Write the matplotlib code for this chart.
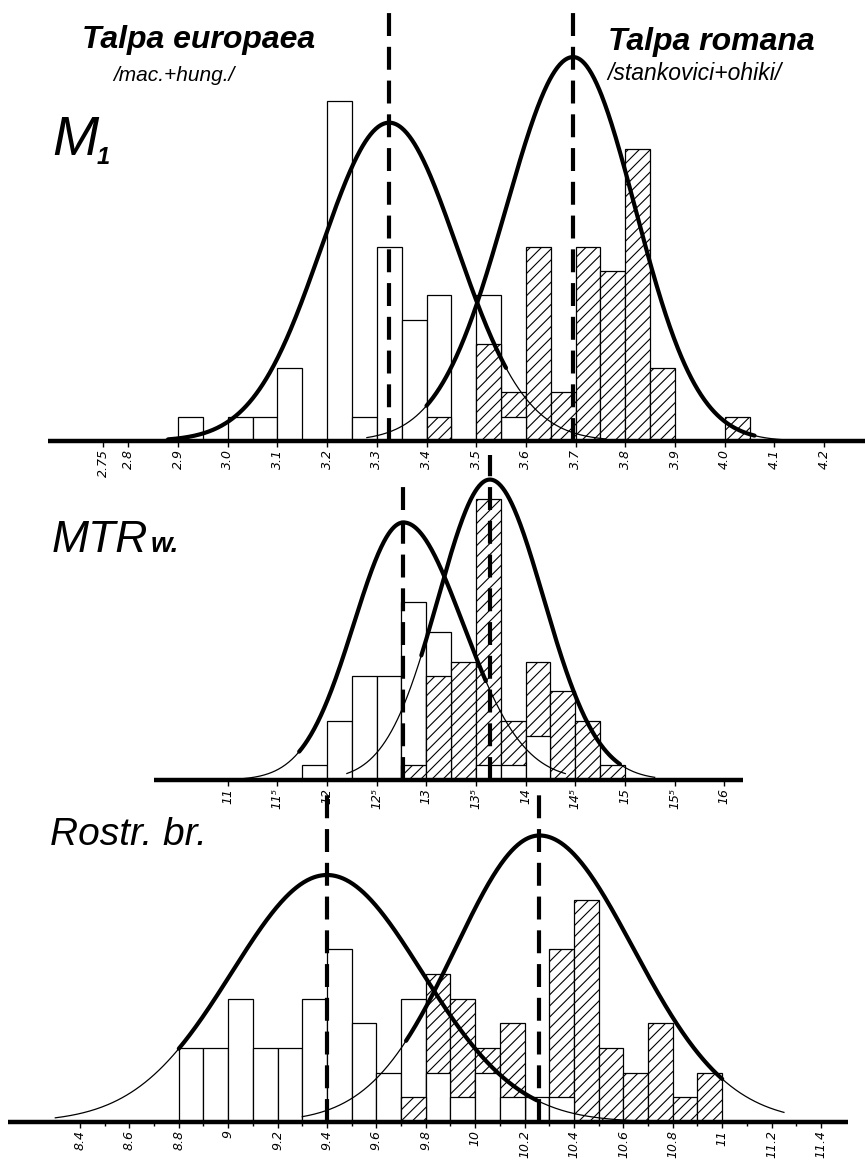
import numpy as np
import matplotlib
matplotlib.use("Agg")
import matplotlib.pyplot as plt

# ---------------- data ----------------
# M1 panel (bins of 0.05 starting at 2.90)
m1_bin_start = 2.90
m1_bin_width = 0.05
m1_europaea = [1, 0, 1, 1, 3, 0, 14, 1, 8, 5, 6, 0, 6, 1, 0, 0, 0, 0, 0, 0, 0, 0, 0, 0]
m1_romana = [0, 0, 0, 0, 0, 0, 0, 0, 0, 0, 1, 0, 4, 2, 8, 2, 8, 7, 12, 3, 0, 0, 1, 0]
m1_ticks = [2.75, 2.8, 2.9, 3.0, 3.1, 3.2, 3.3, 3.4, 3.5, 3.6, 3.7, 3.8, 3.9, 4.0, 4.1, 4.2]
m1_ticklabels = ["2.75", "2.8", "2.9", "3.0", "3.1", "3.2", "3.3", "3.4", "3.5", "3.6",
                 "3.7", "3.8", "3.9", "4.0", "4.1", "4.2"]
# normal curves: mean, sd_left, sd_right, peak
m1_eu_curve = [3.325, 0.137, 0.137, 13.1]
m1_ro_curve = [3.695, 0.135, 0.125, 15.8]

# MTR w. panel (bins of 0.25 starting at 11.75)
mtr_bin_start = 11.75
mtr_bin_width = 0.25
mtr_europaea = [1, 4, 7, 7, 12, 10, 0, 1, 1, 3, 0, 0, 0]
mtr_romana = [0, 0, 0, 0, 1, 7, 8, 19, 4, 8, 6, 4, 1]
mtr_ticks = [11, 11.5, 12, 12.5, 13, 13.5, 14, 14.5, 15, 15.5, 16]
mtr_ticklabels = ["11", "11\u2075", "12", "12\u2075", "13", "13\u2075", "14", "14\u2075",
                  "15", "15\u2075", "16"]
mtr_eu_curve = [12.77, 0.50, 0.60, 17.4]
mtr_ro_curve = [13.64, 0.52, 0.54, 20.3]

# Rostr. br. panel (bins of 0.1 starting at 8.8)
ros_bin_start = 8.8
ros_bin_width = 0.1
ros_europaea = [3, 3, 5, 3, 3, 5, 7, 4, 2, 5, 2, 1, 2, 1, 1, 1, 0, 0, 0, 0, 0, 0]
ros_romana = [0, 0, 0, 0, 0, 0, 0, 0, 0, 1, 6, 5, 3, 4, 0, 7, 9, 3, 2, 4, 1, 2]
ros_ticks = [8.4, 8.6, 8.8, 9.0, 9.2, 9.4, 9.6, 9.8, 10.0, 10.2, 10.4, 10.6, 10.8, 11.0, 11.2, 11.4]
ros_ticklabels = ["8.4", "8.6", "8.8", "9", "9.2", "9.4", "9.6", "9.8", "10", "10.2",
                  "10.4", "10.6", "10.8", "11", "11.2", "11.4"]
ros_minor = [8.5, 8.7, 8.9, 9.1, 9.3, 9.5, 9.7, 9.9, 10.1, 10.3, 10.5, 10.7, 10.9, 11.1, 11.3]
ros_eu_curve = [9.40, 0.385, 0.385, 10.0]
ros_ro_curve = [10.26, 0.34, 0.38, 11.6]

# ---------------- layout / style ----------------
W, H = 865, 1161
plt.rcParams["hatch.linewidth"] = 0.8
plt.rcParams["hatch.color"] = "black"
fig = plt.figure(figsize=(W / 100, H / 100), dpi=100)
fig.patch.set_facecolor("white")

HAND = ["Liberation Sans", "DejaVu Sans"]


def make_axes(ref_val, ref_px, px_per_unit, base_px, top_px, px_per_count):
    ax = fig.add_axes([0, 1 - base_px / H, 1, (base_px - top_px) / H])
    ax.set_xlim(ref_val - ref_px / px_per_unit, ref_val + (W - ref_px) / px_per_unit)
    ax.set_ylim(0, (base_px - top_px) / px_per_count)
    ax.patch.set_alpha(0)
    for s in ax.spines.values():
        s.set_visible(False)
    ax.set_yticks([])
    conv = lambda px: ref_val + (px - ref_px) / px_per_unit
    hconv = lambda px: (base_px - px) / px_per_count
    return ax, conv, hconv


def skewnorm_curve(x, p):
    mu, sl, sr, peak = p
    s = np.where(x < mu, sl, sr)
    return peak * np.exp(-0.5 * ((x - mu) / s) ** 2)


def draw_panel(ax, start, width, eu, ro, eu_curve, ro_curve,
               eu_thin, eu_thick, ro_thin, ro_thick, dash_tops):
    lefts = start + width * np.arange(len(eu))
    be = ax.bar(lefts, eu, width=width, align="edge", facecolor="white",
                edgecolor="black", linewidth=0.9, zorder=2)
    br = ax.bar(lefts, ro, width=width, align="edge", facecolor="white",
                edgecolor="black", linewidth=0.9, hatch="///", zorder=2)
    for pe, pr, a, b in zip(be.patches, br.patches, eu, ro):
        if a == 0:
            pe.set_visible(False)
        if b == 0:
            pr.set_visible(False)
        if a <= b:
            pe.set_zorder(3)
        else:
            pr.set_zorder(3)
    for p, thin, thick in [(eu_curve, eu_thin, eu_thick), (ro_curve, ro_thin, ro_thick)]:
        xs = np.linspace(thin[0], thin[1], 400)
        ax.plot(xs, skewnorm_curve(xs, p), color="black", lw=0.9, zorder=4)
        xk = np.linspace(thick[0], thick[1], 400)
        ax.plot(xk, skewnorm_curve(xk, p), color="black", lw=3.0, zorder=4,
                solid_capstyle="round")
    for p, top in zip([eu_curve, ro_curve], dash_tops):
        ax.vlines(p[0], 0, top, colors="black", lw=3.0, linestyles=(0, (5.5, 2.6)), zorder=5)


def style_ticks(ax, ticks, labels, minor=None):
    ax.set_xticks(ticks)
    ax.set_xticklabels(labels, rotation=90, fontsize=9, fontstyle="italic",
                       family="DejaVu Sans")
    ax.tick_params(axis="x", length=4, width=1, pad=2, direction="out")
    if minor is not None:
        ax.set_xticks(minor, minor=True)
        ax.tick_params(axis="x", which="minor", length=3, width=1)


# ---- M1 ----
ax1, c1, h1 = make_axes(2.9, 178, 497, 441, 0, 24.3)
draw_panel(ax1, m1_bin_start, m1_bin_width, m1_europaea, m1_romana,
           m1_eu_curve, m1_ro_curve,
           (2.78, 3.76), (2.88, 3.56), (3.28, 4.18), (3.40, 4.06),
           (h1(12), h1(12)))
ax1.hlines(0, c1(48), c1(865), colors="black", lw=3.2, zorder=6, clip_on=False)
style_ticks(ax1, m1_ticks, m1_ticklabels)

# ---- MTR w. ----
ax2, c2, h2 = make_axes(12.0, 327, 99.3, 780, 440, 14.8)
draw_panel(ax2, mtr_bin_start, mtr_bin_width, mtr_europaea, mtr_romana,
           mtr_eu_curve, mtr_ro_curve,
           (11.0, 14.4), (11.72, 13.6), (12.2, 15.3), (12.95, 14.95),
           (h2(485), h2(455)))
ax2.hlines(0, c2(154), c2(743), colors="black", lw=3.2, zorder=6, clip_on=False)
style_ticks(ax2, mtr_ticks, mtr_ticklabels)

# ---- Rostr. br. ----
ax3, c3, h3 = make_axes(9.4, 327, 247, 1122, 780, 24.7)
draw_panel(ax3, ros_bin_start, ros_bin_width, ros_europaea, ros_romana,
           ros_eu_curve, ros_ro_curve,
           (8.3, 10.8), (8.8, 10.25), (9.3, 11.25), (9.72, 11.0),
           (h3(795), h3(786)))
ax3.hlines(0, c3(8), c3(848), colors="black", lw=3.2, zorder=6, clip_on=False)
style_ticks(ax3, ros_ticks, ros_ticklabels, ros_minor)


# ---------------- texts ----------------
def ftext(xpx, ypx, s, **kw):
    fig.text(xpx / W, 1 - ypx / H, s, ha="left", va="baseline", **kw)


ftext(82, 48, "Talpa europaea", fontsize=23, fontweight="bold", fontstyle="italic", family=HAND)
ftext(113, 81, "/mac.+hung./", fontsize=15, fontstyle="italic", family=HAND)
ftext(608, 50, "Talpa romana", fontsize=23, fontweight="bold", fontstyle="italic", family=HAND)
ftext(607, 80, "/stankovici+ohiki/", fontsize=16.5, fontstyle="italic", family=HAND)

ftext(52, 155, "M", fontsize=40, fontstyle="italic", family=HAND)
ftext(97, 164, "1", fontsize=17, fontstyle="italic", fontweight="bold", family=HAND)
ftext(52, 552, "MTR", fontsize=32, fontstyle="italic", family=HAND)
ftext(151, 552, "w.", fontsize=20, fontstyle="italic", fontweight="bold", family=HAND)
ftext(50, 845, "Rostr. br.", fontsize=28, fontstyle="italic", family=HAND)

fig.savefig("out.png", dpi=100, facecolor="white")
